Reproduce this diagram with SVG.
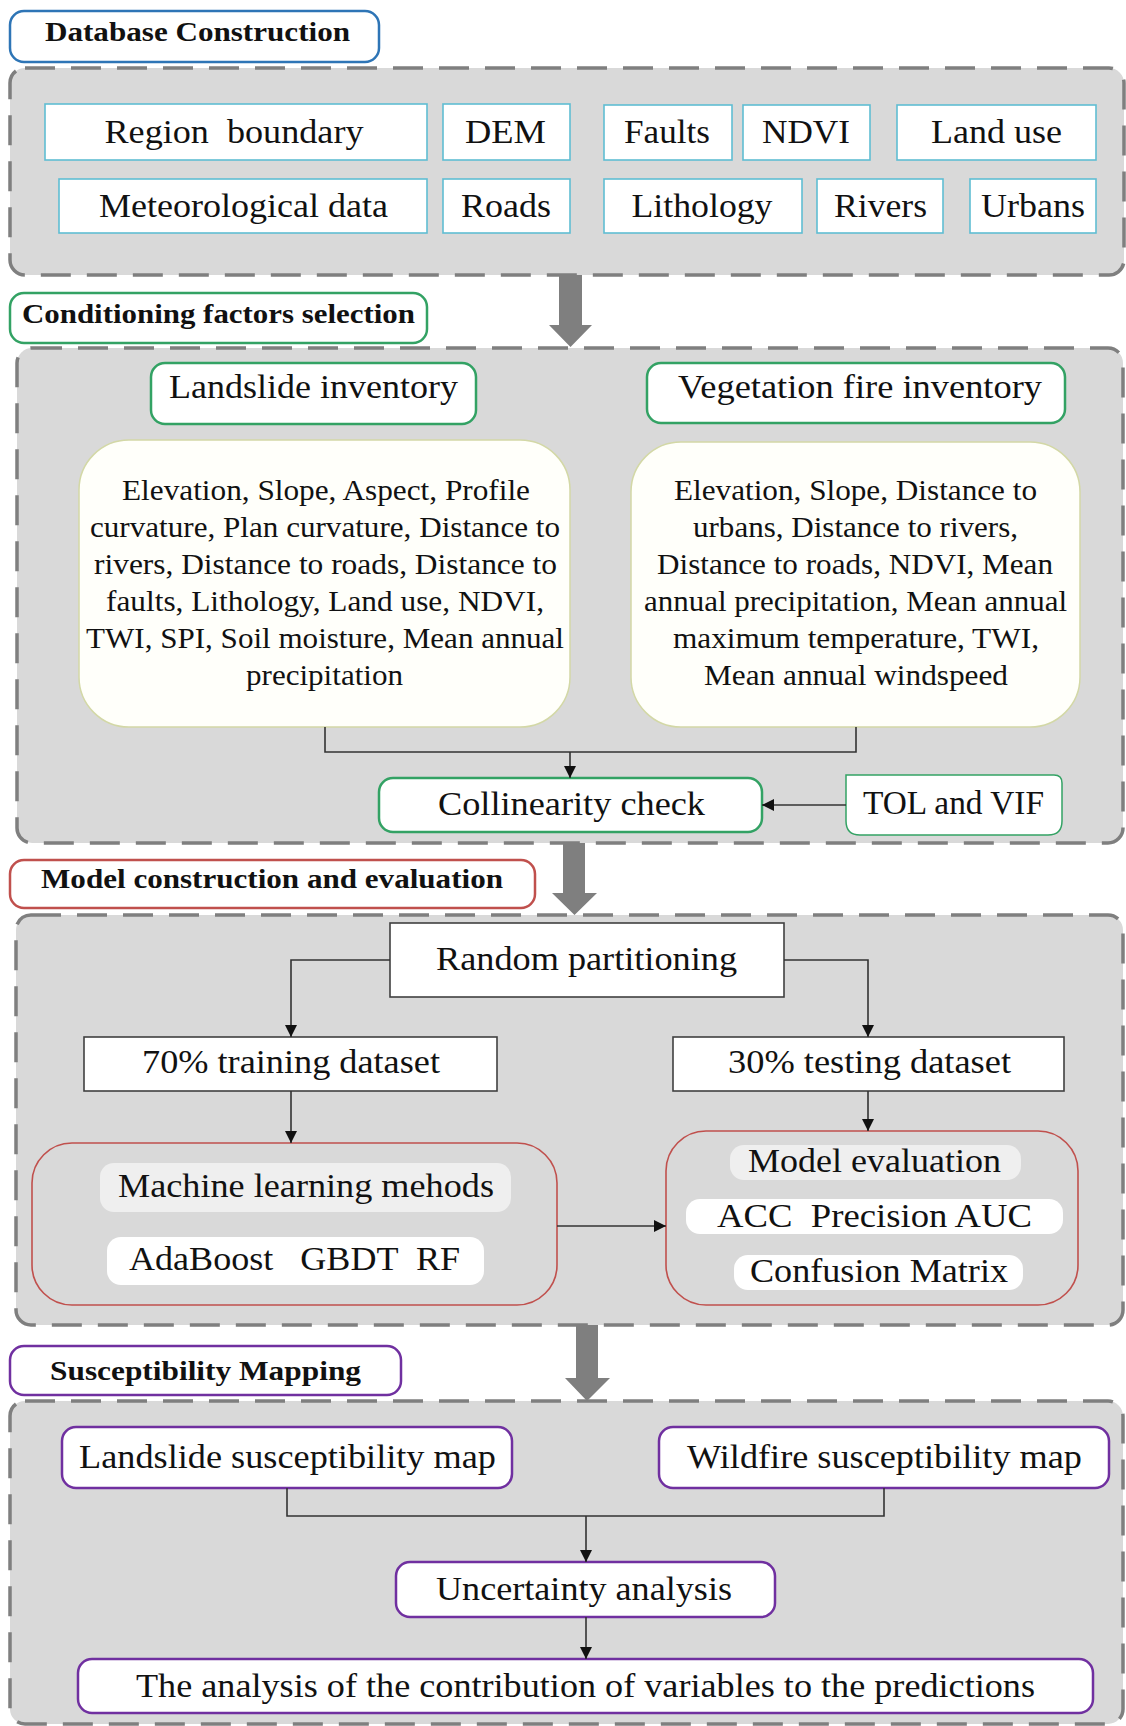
<svg xmlns="http://www.w3.org/2000/svg" width="1126" height="1726" viewBox="0 0 1126 1726">
<defs>
<style>
.panel{fill:#d9d9d9;stroke:#7f7f7f;stroke-width:3.5;stroke-dasharray:30 16}
.bigarrow{fill:#7f7f7f}
.hdr{fill:#fff;stroke-width:2.5}
.db{fill:#fff;stroke:#5fbdd3;stroke-width:1.6}
.grn{fill:#fff;stroke:#33a264;stroke-width:2.5}
.fac{fill:#fffffa;stroke:#d3d8a6;stroke-width:1.5}
.sq{fill:#fff;stroke:#404040;stroke-width:1.6}
.red{fill:none;stroke:#c0504d;stroke-width:1.6}
.pur{fill:#fff;stroke:#7030a0;stroke-width:2.5}
.pillg{fill:#efefef}
.pillw{fill:#fff}
text{font-family:"Liberation Serif","Times New Roman",serif;fill:#111;text-anchor:middle}
.h{font-size:27px;font-weight:bold}
.t{font-size:34px}
.f{font-size:29px}
.conn{fill:none;stroke:#333;stroke-width:1.6}
</style>
<marker id="ah" viewBox="0 0 10 10" refX="10" refY="5" markerWidth="13" markerHeight="12" markerUnits="userSpaceOnUse" orient="auto">
<path d="M0,0 L10,5 L0,10 z" fill="#111"/>
</marker>
</defs>

<!-- Section panels -->
<g id="panel-database"><rect class="panel" x="10" y="68" width="1114" height="207" rx="15"/></g>
<g id="panel-conditioning"><rect class="panel" x="17" y="348" width="1106" height="495" rx="15"/></g>
<g id="panel-model"><rect class="panel" x="16" y="915" width="1107" height="410" rx="15"/></g>
<g id="panel-mapping"><rect class="panel" x="10" y="1401" width="1113" height="323" rx="15"/></g>

<!-- Big gray arrows -->
<g id="bigarrow-1"><path class="bigarrow" d="M559,275 H582 V325 H592 L570.5,347 L549,325 H559 Z"/></g>
<g id="bigarrow-2"><path class="bigarrow" d="M563,843 H585 V893 H597 L574.5,915 L552,893 H563 Z"/></g>
<g id="bigarrow-3"><path class="bigarrow" d="M576,1325 H598 V1378 H610 L587,1401 L565,1378 H576 Z"/></g>

<!-- Headers -->
<g id="hdr-database"><rect class="hdr" stroke="#2e75b6" x="10" y="11" width="369" height="51" rx="14"/><text class="h" x="197.5" y="41" textLength="305" lengthAdjust="spacingAndGlyphs">Database Construction</text></g>
<g id="hdr-conditioning"><rect class="hdr" stroke="#33a264" x="10" y="293" width="417" height="50" rx="14"/><text class="h" x="218.5" y="323" textLength="393" lengthAdjust="spacingAndGlyphs">Conditioning factors selection</text></g>
<g id="hdr-model"><rect class="hdr" stroke="#c0504d" stroke-width="2" x="10" y="860" width="525" height="48" rx="14"/><text class="h" x="272" y="888" textLength="462" lengthAdjust="spacingAndGlyphs">Model construction and evaluation</text></g>
<g id="hdr-mapping"><rect class="hdr" stroke="#7030a0" x="10" y="1346" width="391" height="49" rx="14"/><text class="h" x="205.5" y="1380" textLength="311" lengthAdjust="spacingAndGlyphs">Susceptibility Mapping</text></g>

<!-- Database items -->
<g id="db-region"><rect class="db" x="45" y="104" width="382" height="56"/><text class="t" x="234" y="143" textLength="259" lengthAdjust="spacingAndGlyphs" xml:space="preserve">Region  boundary</text></g>
<g id="db-dem"><rect class="db" x="443" y="104" width="127" height="56"/><text class="t" x="505.5" y="143" textLength="81" lengthAdjust="spacingAndGlyphs">DEM</text></g>
<g id="db-faults"><rect class="db" x="604" y="105" width="128" height="55"/><text class="t" x="667" y="143" textLength="86" lengthAdjust="spacingAndGlyphs">Faults</text></g>
<g id="db-ndvi"><rect class="db" x="743" y="105" width="127" height="55"/><text class="t" x="806" y="143" textLength="88" lengthAdjust="spacingAndGlyphs">NDVI</text></g>
<g id="db-landuse"><rect class="db" x="897" y="105" width="199" height="55"/><text class="t" x="996.5" y="143" textLength="131" lengthAdjust="spacingAndGlyphs">Land use</text></g>
<g id="db-meteo"><rect class="db" x="59" y="179" width="368" height="54"/><text class="t" x="243.5" y="217" textLength="289" lengthAdjust="spacingAndGlyphs">Meteorological data</text></g>
<g id="db-roads"><rect class="db" x="443" y="179" width="127" height="54"/><text class="t" x="506" y="217" textLength="90" lengthAdjust="spacingAndGlyphs">Roads</text></g>
<g id="db-lithology"><rect class="db" x="604" y="179" width="198" height="54"/><text class="t" x="702" y="217" textLength="141" lengthAdjust="spacingAndGlyphs">Lithology</text></g>
<g id="db-rivers"><rect class="db" x="817" y="179" width="126" height="54"/><text class="t" x="880.5" y="217" textLength="93" lengthAdjust="spacingAndGlyphs">Rivers</text></g>
<g id="db-urbans"><rect class="db" x="970" y="179" width="126" height="54"/><text class="t" x="1033" y="217" textLength="104" lengthAdjust="spacingAndGlyphs">Urbans</text></g>

<!-- Conditioning section -->
<g id="landslide-inventory"><rect class="grn" x="151" y="363" width="325" height="61" rx="14"/><text class="t" x="313.5" y="398" textLength="289" lengthAdjust="spacingAndGlyphs">Landslide inventory</text></g>
<g id="veg-inventory"><rect class="grn" x="647" y="363" width="418" height="60" rx="14"/><text class="t" x="860" y="398" textLength="364" lengthAdjust="spacingAndGlyphs">Vegetation fire inventory</text></g>
<g id="landslide-factors"><rect class="fac" x="79" y="440" width="491" height="287" rx="50"/>
<text class="f" x="326" y="500" textLength="408" lengthAdjust="spacingAndGlyphs">Elevation, Slope, Aspect, Profile</text>
<text class="f" x="325" y="537" textLength="470" lengthAdjust="spacingAndGlyphs">curvature, Plan curvature, Distance to</text>
<text class="f" x="325.5" y="574" textLength="463" lengthAdjust="spacingAndGlyphs">rivers, Distance to roads, Distance to</text>
<text class="f" x="325" y="611" textLength="438" lengthAdjust="spacingAndGlyphs">faults, Lithology, Land use, NDVI,</text>
<text class="f" x="325" y="648" textLength="478" lengthAdjust="spacingAndGlyphs">TWI, SPI, Soil moisture, Mean annual</text>
<text class="f" x="324.5" y="685" textLength="157" lengthAdjust="spacingAndGlyphs">precipitation</text>
</g>
<g id="veg-factors"><rect class="fac" x="631" y="442" width="449" height="285" rx="50"/>
<text class="f" x="855.5" y="500" textLength="363" lengthAdjust="spacingAndGlyphs">Elevation, Slope, Distance to</text>
<text class="f" x="855.5" y="537" textLength="325" lengthAdjust="spacingAndGlyphs">urbans, Distance to rivers,</text>
<text class="f" x="855" y="574" textLength="396" lengthAdjust="spacingAndGlyphs">Distance to roads, NDVI, Mean</text>
<text class="f" x="855.5" y="611" textLength="423" lengthAdjust="spacingAndGlyphs">annual precipitation, Mean annual</text>
<text class="f" x="856" y="648" textLength="366" lengthAdjust="spacingAndGlyphs">maximum temperature, TWI,</text>
<text class="f" x="856" y="685" textLength="304" lengthAdjust="spacingAndGlyphs">Mean annual windspeed</text>
</g>
<g id="collinearity"><rect class="grn" x="379" y="778" width="383" height="54" rx="14"/><text class="t" x="571.5" y="815" textLength="267" lengthAdjust="spacingAndGlyphs">Collinearity check</text></g>
<g id="tol-vif"><path d="M846,775 H1054 Q1062,775 1062,783 V821 Q1062,835 1048,835 H860 Q846,835 846,821 Z" fill="#fff" stroke="#33a264" stroke-width="1.5"/><text class="t" x="953.5" y="814" textLength="181" lengthAdjust="spacingAndGlyphs">TOL and VIF</text></g>

<!-- Model section -->
<g id="random-partitioning"><rect class="sq" x="390" y="923" width="394" height="74"/><text class="t" x="586.5" y="970" textLength="301" lengthAdjust="spacingAndGlyphs">Random partitioning</text></g>
<g id="training"><rect class="sq" x="84" y="1037" width="413" height="54"/><text class="t" x="291" y="1073" textLength="298" lengthAdjust="spacingAndGlyphs">70% training dataset</text></g>
<g id="testing"><rect class="sq" x="673" y="1037" width="391" height="54"/><text class="t" x="869.5" y="1073" textLength="283" lengthAdjust="spacingAndGlyphs">30% testing dataset</text></g>
<g id="ml-methods"><rect class="red" x="32" y="1143" width="525" height="162" rx="40"/>
<rect class="pillg" x="100" y="1163" width="411" height="49" rx="14"/>
<text class="t" x="306" y="1197" textLength="376" lengthAdjust="spacingAndGlyphs">Machine learning mehods</text>
<rect class="pillw" x="107" y="1237" width="377" height="48" rx="14"/>
<text class="t" x="294.5" y="1270" textLength="331" lengthAdjust="spacingAndGlyphs" xml:space="preserve">AdaBoost   GBDT  RF</text>
</g>
<g id="model-evaluation"><rect class="red" x="666" y="1131" width="412" height="174" rx="40"/>
<rect class="pillg" x="730" y="1145" width="291" height="35" rx="14"/>
<text class="t" x="874.5" y="1172" textLength="253" lengthAdjust="spacingAndGlyphs">Model evaluation</text>
<rect class="pillw" x="686" y="1199" width="377" height="35" rx="14"/>
<text class="t" x="874.5" y="1227" textLength="315" lengthAdjust="spacingAndGlyphs" xml:space="preserve">ACC  Precision AUC</text>
<rect class="pillw" x="734" y="1255" width="289" height="35" rx="14"/>
<text class="t" x="879" y="1282" textLength="258" lengthAdjust="spacingAndGlyphs">Confusion Matrix</text>
</g>

<!-- Mapping section -->
<g id="landslide-map"><rect class="pur" x="62" y="1427" width="450" height="61" rx="14"/><text class="t" x="287.5" y="1468" textLength="417" lengthAdjust="spacingAndGlyphs">Landslide susceptibility map</text></g>
<g id="wildfire-map"><rect class="pur" x="659" y="1427" width="450" height="61" rx="14"/><text class="t" x="884.5" y="1468" textLength="395" lengthAdjust="spacingAndGlyphs">Wildfire susceptibility map</text></g>
<g id="uncertainty"><rect class="pur" x="396" y="1562" width="379" height="55" rx="14"/><text class="t" x="584" y="1600" textLength="296" lengthAdjust="spacingAndGlyphs">Uncertainty analysis</text></g>
<g id="contribution"><rect class="pur" x="78" y="1659" width="1015" height="54" rx="14"/><text class="t" x="585.5" y="1697" textLength="899" lengthAdjust="spacingAndGlyphs">The analysis of the contribution of variables to the predictions</text></g>

<!-- Connectors -->
<g id="connectors">
<polyline class="conn" points="325,727 325,752 856,752 856,727"/>
<line class="conn" x1="570" y1="752" x2="570" y2="778" marker-end="url(#ah)"/>
<line class="conn" x1="846" y1="805" x2="762" y2="805" marker-end="url(#ah)"/>
<polyline class="conn" points="390,960 291,960 291,1037" marker-end="url(#ah)"/>
<polyline class="conn" points="784,960 868,960 868,1037" marker-end="url(#ah)"/>
<line class="conn" x1="291" y1="1091" x2="291" y2="1143" marker-end="url(#ah)"/>
<line class="conn" x1="868" y1="1091" x2="868" y2="1131" marker-end="url(#ah)"/>
<line class="conn" x1="557" y1="1226" x2="666" y2="1226" marker-end="url(#ah)"/>
<polyline class="conn" points="287,1488 287,1516 884,1516 884,1488"/>
<line class="conn" x1="586" y1="1516" x2="586" y2="1562" marker-end="url(#ah)"/>
<line class="conn" x1="586" y1="1617" x2="586" y2="1659" marker-end="url(#ah)"/>
</g>
</svg>
